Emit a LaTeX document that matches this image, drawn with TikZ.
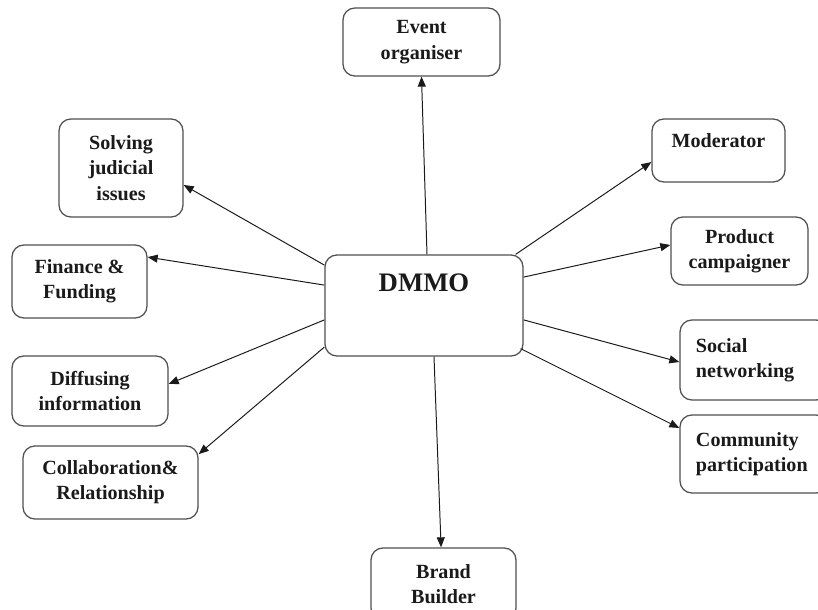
\documentclass[tikz,border=0pt]{standalone}
\usepackage{fontspec}
\setmainfont{Liberation Serif}
\usetikzlibrary{arrows.meta}
\definecolor{ink}{HTML}{1A1A1A}
\definecolor{line}{HTML}{505050}

\begin{document}
\begin{tikzpicture}[
  x=0.025cm,y=-0.025cm,
  font=\bfseries\fontsize{14.3}{18}\selectfont,
  text=ink,
  role/.style={draw=line,fill=white,rounded corners=8.5pt,
    line width=0.9pt,inner sep=2pt,align=center},
  sidenote/.style={role,text width=2.9cm,inner xsep=0.4cm,align=left},
  hub/.style={role,inner ysep=0pt,font=\bfseries\fontsize{19}{22}\selectfont},
  link/.style={-{Triangle[length=2.5mm,width=2mm]},draw=ink,line width=0.7pt}
]
\useasboundingbox (0,0) rectangle (818,610);
\node[hub,minimum width=4.95cm,text height=0.925cm,text depth=1.6cm] (dmmo)
  at (424,305.5) {DMMO};
\node[role,minimum width=3.925cm,minimum height=1.7cm] (event)
  at (421.5,42) {Event\\organiser};
\node[role,minimum width=3.325cm,inner ysep=0pt,text height=0.725cm,
  text depth=0.85cm] (moderator) at (718.5,150.5) {Moderator};
\node[role,minimum width=3.425cm,minimum height=1.7cm] (product)
  at (739.5,251) {Product\\campaigner};
\node[sidenote,minimum height=2cm] (social)
  at (754,360) {Social\\networking};
\node[sidenote,minimum height=1.95cm] (community)
  at (754,454) {Community\\participation};
\node[role,minimum width=3.625cm,minimum height=1.8cm] (brand)
  at (443.5,584) {Brand\\Builder};
\node[role,minimum width=3.1cm,minimum height=2.45cm] (solving)
  at (121,168) {Solving\\judicial\\issues};
\node[role,minimum width=3.375cm,minimum height=1.825cm] (finance)
  at (79.5,281.5) {Finance \&\\Funding};
\node[role,minimum width=3.9cm,minimum height=1.75cm] (diffusing)
  at (90,391) {Diffusing\\information};
\node[role,minimum width=4.375cm,minimum height=1.825cm] (collab)
  at (110.5,482.5) {Collaboration\&\\Relationship};
\draw[link] ([xshift=0.075cm]dmmo.north) -- (event.south);
\draw[link] ([xshift=0.25cm]dmmo.south) -- ([xshift=-0.06cm]brand.north);
\draw[link] ([xshift=-0.2cm]dmmo.north east) -- ([yshift=-0.29cm]moderator.west);
\draw[link] ([yshift=0.71cm]dmmo.east) -- ([yshift=0.15cm]product.west);
\draw[link] ([yshift=-0.36cm]dmmo.east) -- ([yshift=-0.05cm]social.west);
\draw[link] ([shift={(-0.075cm,0.2cm)}]dmmo.south east) -- ([yshift=0.65cm]community.west);
\draw[link] ([yshift=1.01cm]dmmo.west) -- ([yshift=-0.425cm]solving.east);
\draw[link] ([yshift=0.51cm]dmmo.west) -- ([yshift=0.61cm]finance.east);
\draw[link] ([yshift=-0.36cm]dmmo.west) -- ([yshift=0.175cm]diffusing.east);
\draw[link] ([yshift=-1.04cm]dmmo.west) -- ([yshift=-0.22cm]collab.north east);
\end{tikzpicture}
\end{document}
